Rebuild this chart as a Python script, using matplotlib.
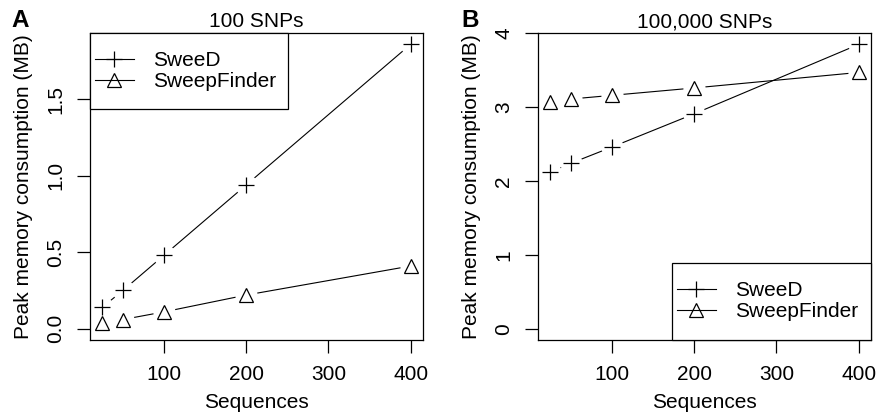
"""Peak memory consumption of SweeD vs SweepFinder"""

import matplotlib
matplotlib.use('Agg')
from matplotlib import pyplot as plt
from matplotlib.patches import Rectangle

sequences = [25, 50, 100, 200, 400]

# panel A: 100 SNPs
sweed_100 = [0.14, 0.25, 0.48, 0.94, 1.86]
finder_100 = [0.04, 0.06, 0.11, 0.22, 0.41]

# panel B: 100,000 SNPs
sweed_100k = [2.12, 2.24, 2.46, 2.91, 3.85]
finder_100k = [3.07, 3.11, 3.16, 3.26, 3.47]

FS = 15

plt.rcParams['font.family'] = ['Liberation Sans', 'DejaVu Sans']
plt.rcParams['font.size'] = FS

fig = plt.figure(figsize=(8.77, 4.18), dpi=100)
ax_a = fig.add_axes([0.1026, 0.1866, 0.3797, 0.7344])
ax_b = fig.add_axes([0.6135, 0.1866, 0.3797, 0.7344])

MSIZE = {'+': 11, '^': 9.5}


def draw_series(ax, x, y, marker):
    # R type="b": line with a gap round every point
    ax.plot(x, y, color='black', linewidth=0.8, zorder=1)
    ax.plot(x, y, linestyle='none', marker='o', markersize=16,
            markerfacecolor='white', markeredgecolor='none', zorder=2)
    ax.plot(x, y, linestyle='none', marker=marker, markersize=MSIZE[marker],
            markerfacecolor='none', markeredgecolor='black',
            markeredgewidth=0.9, zorder=3)
    handle, = ax.plot([], [], color='black', linewidth=0.8, marker=marker,
                      markersize=MSIZE[marker], markerfacecolor='none',
                      markeredgecolor='black', markeredgewidth=0.9)
    return handle


panels = [
    (ax_a, sweed_100, finder_100, '100 SNPs', (-0.074, 1.934),
     [0.0, 0.5, 1.0, 1.5], ['0.0', '0.5', '1.0', '1.5'],
     (0.0, 0.752, 0.595, 0.248), (0.015, 0.876)),
    (ax_b, sweed_100k, finder_100k, '100,000 SNPs', (-0.154, 4.004),
     [0, 1, 2, 3, 4], ['0', '1', '2', '3', '4'],
     (0.402, 0.0, 0.598, 0.251), (0.417, 0.127)),
]

for ax, sweed, finder, title, ylim, yticks, ylabels, box, anchor in panels:
    h1 = draw_series(ax, sequences, sweed, '+')
    h2 = draw_series(ax, sequences, finder, '^')
    ax.set_xlim(10, 415)
    ax.set_ylim(*ylim)
    ax.set_xticks([100, 200, 300, 400])
    ax.set_yticks(yticks)
    ax.set_yticklabels(ylabels, rotation=90, va='center')
    ax.tick_params(direction='out', length=9.4, width=0.9, pad=8.6,
                   labelsize=FS)
    for spine in ax.spines.values():
        spine.set_linewidth(0.9)
    ax.text(0.5, 1.037, title, transform=ax.transAxes, ha='center',
            va='center', fontsize=FS)
    ax.set_xlabel('Sequences', fontsize=FS)
    ax.set_ylabel('Peak memory consumption (MB)', fontsize=FS)
    ax.xaxis.set_label_coords(0.5, -0.204)
    ax.xaxis.label.set_va('center')
    ax.yaxis.set_label_coords(-0.2, 0.5)
    ax.yaxis.label.set_va('center')

    # legend frame drawn like R's legend box
    ax.add_patch(Rectangle(box[:2], box[2], box[3], transform=ax.transAxes,
                           facecolor='white', edgecolor='black',
                           linewidth=0.9, zorder=4, clip_on=False))
    leg = ax.legend([h1, h2], ['SweeD', 'SweepFinder'], loc='center left',
                    bbox_to_anchor=anchor, frameon=False, borderpad=0,
                    borderaxespad=0, handlelength=1.87, handletextpad=0.92,
                    labelspacing=0.1, fontsize=FS)
    leg.set_zorder(5)

fig.text(0.013, 0.978, 'A', fontsize=17.5, fontweight='bold', va='top')
fig.text(0.526, 0.978, 'B', fontsize=17.5, fontweight='bold', va='top')

fig.savefig('out.png', dpi=100)
